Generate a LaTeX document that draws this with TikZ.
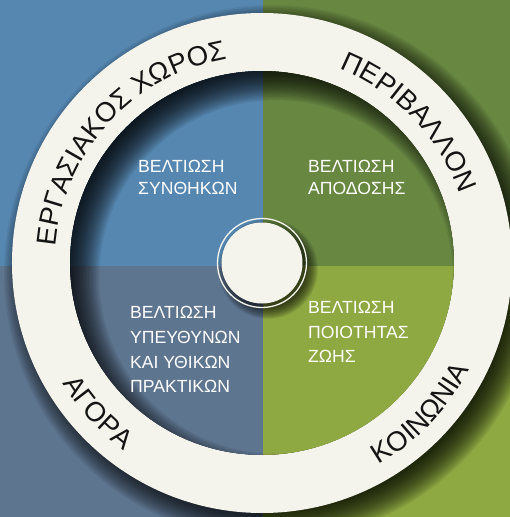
\documentclass[tikz,border=0pt]{standalone}
\usepackage{fontspec}
\setmainfont{Liberation Sans}
\usetikzlibrary{decorations.text}
\definecolor{qTL}{HTML}{5687B1}
\definecolor{qTR}{HTML}{688842}
\definecolor{qBL}{HTML}{5E7590}
\definecolor{qBR}{HTML}{8EA842}
\definecolor{ringcol}{HTML}{F4F4EC}
\definecolor{ringink}{HTML}{141414}
\newcommand\myringfont{\fontsize{27.5}{30}\selectfont}
\begin{document}
\begin{tikzpicture}[x=1pt,y=1pt,
  ringtext/.style={decorate, decoration={text along path, text align=center, text color=ringink}},
  innertext/.style={anchor=base west, inner sep=0pt, text=white, font=\fontsize{17.6}{20}\selectfont}]
\useasboundingbox (-262,-254) rectangle (248,263);
\coordinate (c) at (0,0);
% background quadrants
\fill[qTL] (-262,-3) rectangle (1,263);
\fill[qTR] (1,-3) rectangle (248,263);
\fill[qBL] (-262,-254) rectangle (1,-3);
\fill[qBR] (1,-254) rectangle (248,-3);
% outer shadow of ring
\foreach \k in {0,...,19}{\fill[black, opacity=0.065] (10,-10) circle ({268-1.6*\k});}
% ring
\fill[ringcol, even odd rule] (c) circle (250) (c) circle (192);
% inner disk
\begin{scope}
\clip (c) circle (192);
\fill[qTL] (-262,-3) rectangle (1,263);
\fill[qTR] (1,-3) rectangle (248,263);
\fill[qBL] (-262,-254) rectangle (1,-3);
\fill[qBR] (1,-254) rectangle (248,-3);
\foreach \k in {0,...,19}{\fill[black, opacity=0.075, even odd rule] (c) circle (260) (14,-14) circle ({210-1.75*\k});}
\end{scope}
% centre circle
\foreach \k in {0,...,11}{\fill[black, opacity=0.07] (6,-6) circle ({50-1.0*\k});}
\draw[ringcol, line width=1.3pt] (c) circle (44.5);
\fill[ringcol] (c) circle (40.5);
% ring labels
\path[ringtext, decoration={text={|\myringfont|ΕΡΓΑΣΙΑΚΟΣ ΧΩΡΟΣ}}] (190:207) arc[start angle=190, end angle=85, radius=207];
\path[ringtext, decoration={text={|\myringfont|ΠΕΡΙΒΑΛΛΟΝ}}] (95:209) arc[start angle=95, end angle=-7.6, radius=209];
\path[ringtext, decoration={text={|\myringfont|ΑΓΟΡΑ}}] (180:233) arc[start angle=180, end angle=264.8, radius=233];
\path[ringtext, decoration={text={|\myringfont|ΚΟΙΝΩΝΙΑ}}] (-90:233) arc[start angle=-90, end angle=3, radius=233];
% inner texts
\node[innertext] (tl1) at (-124,91) {ΒΕΛΤΙΩΣΗ};
\node[innertext] (tl2) at (-124,68) {ΣΥΝΘΗΚΩΝ};
\node[innertext] (tr1) at (46,91) {ΒΕΛΤΙΩΣΗ};
\node[innertext] (tr2) at (46,68) {ΑΠΟΔΟΣΗΣ};
\node[innertext] (bl1) at (-132,-55) {ΒΕΛΤΙΩΣΗ};
\node[innertext] (bl2) at (-132,-80) {ΥΠΕΥΘΥΝΩΝ};
\node[innertext] (bl3) at (-132,-105) {ΚΑΙ ΥΘΙΚΩΝ};
\node[innertext] (bl4) at (-132,-129) {ΠΡΑΚΤΙΚΩΝ};
\node[innertext] (br1) at (46,-50) {ΒΕΛΤΙΩΣΗ};
\node[innertext] (br2) at (46,-75) {ΠΟΙΟΤΗΤΑΣ};
\node[innertext] (br3) at (46,-99) {ΖΩΗΣ};
\end{tikzpicture}
\end{document}
